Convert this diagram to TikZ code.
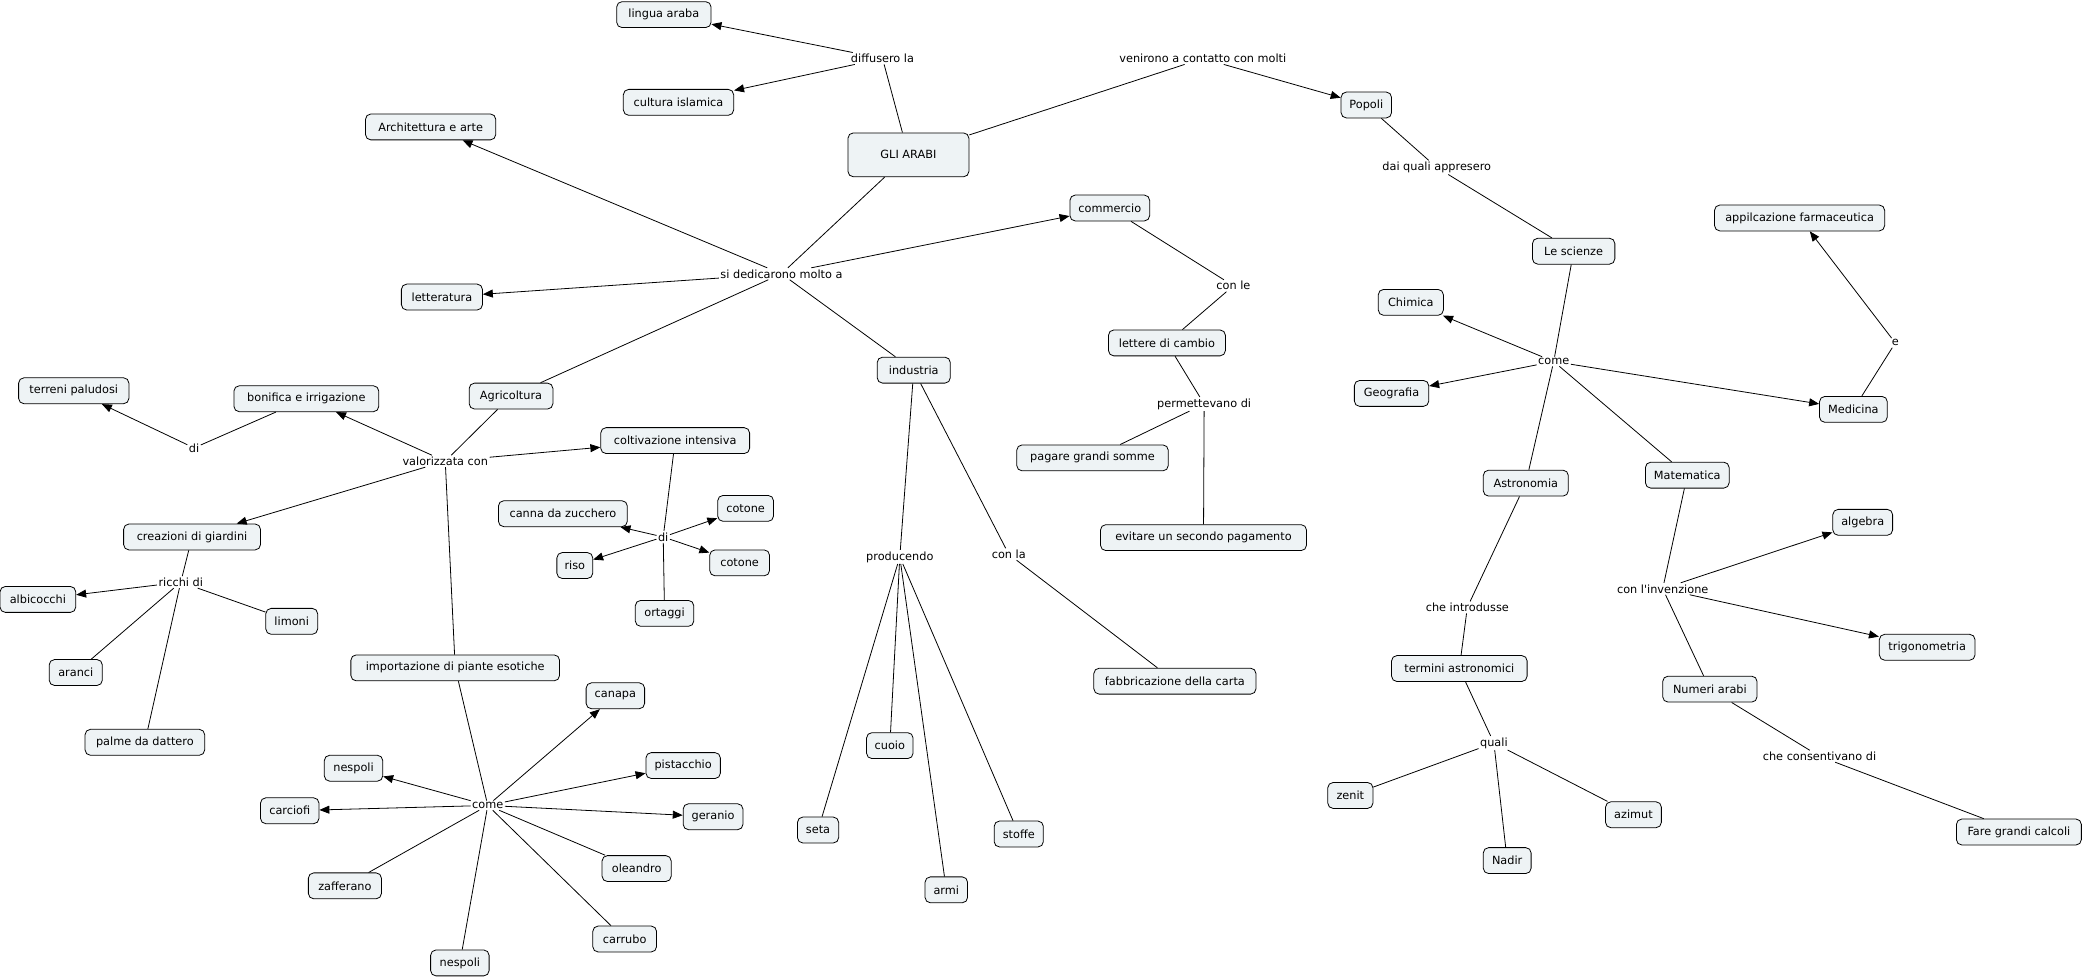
\documentclass[tikz,border=0pt]{standalone}
\usepackage{fontspec}
\setmainfont{DejaVu Sans}
\usetikzlibrary{arrows.meta}
\definecolor{cfill}{HTML}{EEF3F5}
\begin{document}
\begin{tikzpicture}[x=1pt,y=-1pt,
 concept/.style={draw=black, line width=0.6pt, rounded corners=4pt, fill=cfill, inner xsep=5pt, inner ysep=0pt, minimum height=19.5pt, font=\fontsize{8.5}{10}\selectfont},
 lp/.style={inner sep=1pt, font=\fontsize{8.5}{10}\selectfont},
 ln/.style={line width=0.6pt},
 ar/.style={line width=0.6pt, -{Triangle[length=7.5pt,width=6pt]}}]
\useasboundingbox (0,0) rectangle (1568,736.6);
% concepts
\node[concept, minimum width=71pt] (lingua) at (499.5,11) {lingua araba};
\node[concept, minimum width=83pt] (cultura) at (510.5,77) {cultura islamica};
\node[concept, minimum width=91pt, minimum height=33pt] (arabi) at (683.5,116.5) {GLI ARABI};
\node[concept, minimum width=98pt] (archi) at (324,95.5) {Architettura e arte};
\node[concept, minimum width=61pt] (lett) at (332.5,223.5) {letteratura};
\node[concept, minimum width=60pt] (comm) at (835,156.5) {commercio};
\node[concept, minimum width=38pt] (popoli) at (1028,79) {Popoli};
\node[concept, minimum width=62pt] (scienze) at (1184,189) {Le scienze};
\node[concept, minimum width=128pt] (farm) at (1354,164) {appilcazione farmaceutica};
\node[concept, minimum width=49pt] (chim) at (1061.5,227.5) {Chimica};
\node[concept, minimum width=56pt] (geo) at (1047,296) {Geografia};
\node[concept, minimum width=51pt] (med) at (1394.5,308) {Medicina};
\node[concept, minimum width=64pt] (astro) at (1148,363.5) {Astronomia};
\node[concept, minimum width=63pt] (mate) at (1269.5,357.5) {Matematica};
\node[concept, minimum width=45pt] (alg) at (1401.5,393) {algebra};
\node[concept, minimum width=72pt] (trig) at (1450,487) {trigonometria};
\node[concept, minimum width=71pt] (numeri) at (1286.5,518.5) {Numeri arabi};
\node[concept, minimum width=94pt] (calc) at (1519,626) {Fare grandi calcoli};
\node[concept, minimum width=102pt] (termini) at (1098,503) {termini astronomici};
\node[concept, minimum width=34pt] (zenit) at (1016,598.5) {zenit};
\node[concept, minimum width=36pt] (nadir) at (1134,647.5) {Nadir};
\node[concept, minimum width=42pt] (azimut) at (1229,613) {azimut};
\node[concept, minimum width=88pt] (lettere) at (878,258) {lettere di cambio};
\node[concept, minimum width=114pt] (pagare) at (822,344.5) {pagare grandi somme};
\node[concept, minimum width=155pt] (evitare) at (905.5,404.5) {evitare un secondo pagamento};
\node[concept, minimum width=122pt] (carta) at (884,512.5) {fabbricazione della carta};
\node[concept, minimum width=55pt] (ind) at (687.5,278.5) {industria};
\node[concept, minimum width=31pt] (seta) at (615.5,624.5) {seta};
\node[concept, minimum width=35pt] (cuoio) at (669.5,561) {cuoio};
\node[concept, minimum width=32pt] (armi) at (712,669.5) {armi};
\node[concept, minimum width=37pt] (stoffe) at (766.5,627.5) {stoffe};
\node[concept, minimum width=63pt] (agri) at (384.5,298) {Agricoltura};
\node[concept, minimum width=83pt] (terreni) at (55.5,294) {terreni paludosi};
\node[concept, minimum width=109pt] (bonif) at (230.5,300) {bonifica e irrigazione};
\node[concept, minimum width=112pt] (colt) at (508,331.5) {coltivazione intensiva};
\node[concept, minimum width=97pt] (canna) at (423.5,386.5) {canna da zucchero};
\node[concept, minimum width=42pt] (cotoneA) at (561,382.5) {cotone};
\node[concept, minimum width=27pt] (riso) at (432.5,425.5) {riso};
\node[concept, minimum width=45pt] (cotoneB) at (556.5,423.5) {cotone};
\node[concept, minimum width=44pt] (ortaggi) at (500,461.5) {ortaggi};
\node[concept, minimum width=103pt] (giard) at (144.5,404) {creazioni di giardini};
\node[concept, minimum width=57pt] (albic) at (28.5,451) {albicocchi};
\node[concept, minimum width=39pt] (limoni) at (219.5,467.5) {limoni};
\node[concept, minimum width=40pt] (aranci) at (57,506) {aranci};
\node[concept, minimum width=90pt] (palme) at (109,558.5) {palme da dattero};
\node[concept, minimum width=157pt] (import) at (342.5,502.5) {importazione di piante esotiche};
\node[concept, minimum width=44pt] (canapa) at (463,523.5) {canapa};
\node[concept, minimum width=56pt] (pist) at (514,576) {pistacchio};
\node[concept, minimum width=44pt] (nespA) at (266,578) {nespoli};
\node[concept, minimum width=44pt] (carc) at (218,610) {carciofi};
\node[concept, minimum width=45pt] (geran) at (536.5,614.5) {geranio};
\node[concept, minimum width=55pt] (zaff) at (259.5,666.5) {zafferano};
\node[concept, minimum width=52pt] (olea) at (479,653.5) {oleandro};
\node[concept, minimum width=48pt] (carr) at (470,706.5) {carrubo};
\node[concept, minimum width=44pt] (nespB) at (346,724.5) {nespoli};
% linking phrases
\node[lp] (diff) at (664,44) {diffusero la};
\node[lp] (veni) at (905,44) {venirono a contatto con molti};
\node[lp] (sided) at (588,206) {si dedicarono molto a};
\node[lp] (daiq) at (1081,126) {dai quali appresero};
\node[lp] (conle) at (928,215) {con le};
\node[lp] (perm) at (906,304) {permettevano di};
\node[lp] (comeS) at (1169,272) {come};
\node[lp] (ee) at (1426,258) {e};
\node[lp] (coninv) at (1251,443) {con l\textquotesingle invenzione};
\node[lp] (intro) at (1104,457) {che introdusse};
\node[lp] (quali) at (1124,559) {quali};
\node[lp] (consent) at (1369,569) {che consentivano di};
\node[lp] (prod) at (677,419) {producendo};
\node[lp] (conla) at (759,417) {con la};
\node[lp] (valor) at (335,347) {valorizzata con};
\node[lp] (diT) at (146,337) {di};
\node[lp] (diC) at (499,404) {di};
\node[lp] (ricchi) at (136,438) {ricchi di};
\node[lp] (comeP) at (367,606) {come};
% connectors
\draw[ln] (arabi) -- (diff);
\draw[ar] (diff) -- (lingua);
\draw[ar] (diff) -- (cultura);
\draw[ln] (arabi) -- (veni);
\draw[ar] (veni) -- (popoli);
\draw[ln] (arabi) -- (sided);
\draw[ar] (sided) -- (archi);
\draw[ar] (sided) -- (lett);
\draw[ar] (sided) -- (comm);
\draw[ln] (sided) -- (agri);
\draw[ln] (sided) -- (ind);
\draw[ln] (popoli) -- (daiq);
\draw[ln] (daiq) -- (scienze);
\draw[ln] (scienze) -- (comeS);
\draw[ar] (comeS) -- (chim);
\draw[ar] (comeS) -- (geo);
\draw[ar] (comeS) -- (med);
\draw[ln] (comeS) -- (astro);
\draw[ln] (comeS) -- (mate);
\draw[ln] (med) -- (ee);
\draw[ar] (ee) -- (farm);
\draw[ln] (mate) -- (coninv);
\draw[ar] (coninv) -- (alg);
\draw[ar] (coninv) -- (trig);
\draw[ln] (coninv) -- (numeri);
\draw[ln] (numeri) -- (consent);
\draw[ln] (consent) -- (calc);
\draw[ln] (astro) -- (intro);
\draw[ln] (intro) -- (termini);
\draw[ln] (termini) -- (quali);
\draw[ln] (quali) -- (zenit);
\draw[ln] (quali) -- (nadir);
\draw[ln] (quali) -- (azimut);
\draw[ln] (comm) -- (conle);
\draw[ln] (conle) -- (lettere);
\draw[ln] (lettere) -- (perm);
\draw[ln] (perm) -- (pagare);
\draw[ln] (perm) -- (evitare);
\draw[ln] (ind) -- (prod);
\draw[ln] (prod) -- (seta);
\draw[ln] (prod) -- (cuoio);
\draw[ln] (prod) -- (armi);
\draw[ln] (prod) -- (stoffe);
\draw[ln] (ind) -- (conla);
\draw[ln] (conla) -- (carta);
\draw[ln] (agri) -- (valor);
\draw[ar] (valor) -- (bonif);
\draw[ar] (valor) -- (colt);
\draw[ar] (valor) -- (giard);
\draw[ln] (valor) -- (import);
\draw[ln] (bonif) -- (diT);
\draw[ar] (diT) -- (terreni);
\draw[ln] (colt) -- (diC);
\draw[ar] (diC) -- (canna);
\draw[ar] (diC) -- (cotoneA);
\draw[ar] (diC) -- (riso);
\draw[ar] (diC) -- (cotoneB);
\draw[ln] (diC) -- (ortaggi);
\draw[ln] (giard) -- (ricchi);
\draw[ar] (ricchi) -- (albic);
\draw[ln] (ricchi) -- (limoni);
\draw[ln] (ricchi) -- (aranci);
\draw[ln] (ricchi) -- (palme);
\draw[ln] (import) -- (comeP);
\draw[ar] (comeP) -- (canapa);
\draw[ar] (comeP) -- (pist);
\draw[ar] (comeP) -- (nespA);
\draw[ar] (comeP) -- (carc);
\draw[ar] (comeP) -- (geran);
\draw[ln] (comeP) -- (zaff);
\draw[ln] (comeP) -- (olea);
\draw[ln] (comeP) -- (carr);
\draw[ln] (comeP) -- (nespB);
\end{tikzpicture}
\end{document}
